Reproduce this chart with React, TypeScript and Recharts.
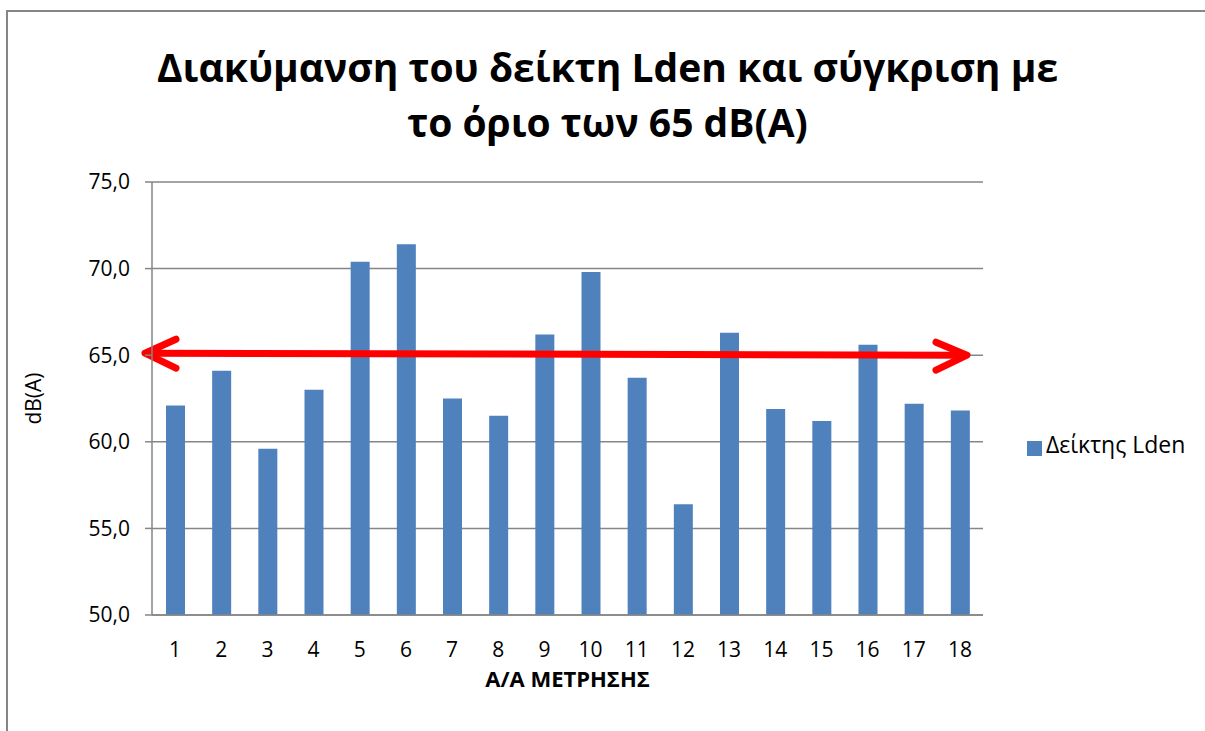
import { BarChart, Bar, XAxis, YAxis, CartesianGrid, Legend, ReferenceLine, Label } from "recharts";

// categories (measurement no.) and Lden values
const categories = ["1", "2", "3", "4", "5", "6", "7", "8", "9", "10", "11", "12", "13", "14", "15", "16", "17", "18"];
const ldenValues = [62.1, 64.1, 59.6, 63.0, 70.4, 71.4, 62.5, 61.5, 66.2, 69.8, 63.7, 56.4, 66.3, 61.9, 61.2, 65.6, 62.2, 61.8];
const yTicks = [50, 55, 60, 65, 70, 75];
const limitValue = 65;

const data = categories.map((c, i) => ({ name: c, lden: ldenValues[i] }));

const FONT = "'Open Sans', 'Noto Sans', sans-serif";
const GRID = "#868686";
const LEGEND_W = 180;

// double-headed red arrow drawn along the 65 dB(A) line
const ArrowShape = (props: any) => {
  const y = props.y1;
  const left = props.x1 - 7;
  const right = props.x2 - 16;
  return (
    <g stroke="#FF0000" strokeLinecap="round" strokeLinejoin="round" fill="none">
      <line x1={left + 4} y1={y - 2} x2={right - 4} y2={y} strokeWidth={7} />
      <polyline points={`${left + 31},${y - 16} ${left},${y - 2} ${left + 31},${y + 13}`} strokeWidth={7} />
      <polyline points={`${right - 31},${y - 13} ${right},${y} ${right - 31},${y + 15}`} strokeWidth={7} />
    </g>
  );
};

export default function App() {
  return (
    <div style={{ position: "fixed", left: 0, top: 0, width: 1205, height: 731, overflow: "hidden", background: "#fff", fontFamily: FONT }}>
      <div style={{ position: "absolute", left: 6, top: 10, width: 1300, height: 800, border: `2px solid ${GRID}` }} />
      <div style={{ position: "absolute", left: 0, top: 39, width: 1215, textAlign: "center", fontWeight: 700, fontSize: 39, lineHeight: "55px", color: "#000" }}>
        Διακύμανση του δείκτη Lden και σύγκριση με
        <br />
        το όριο των 65 dB(A)
      </div>
      <div style={{ position: "absolute", left: 0, top: 0 }}>
        <BarChart
          width={1205}
          height={731}
          data={data}
          margin={{ top: 182, right: 222 - LEGEND_W, bottom: 40, left: 72 }}
          barSize={19}
        >
          <CartesianGrid vertical={false} stroke={GRID} strokeWidth={1.5} />
          <XAxis
            dataKey="name"
            axisLine={{ stroke: GRID, strokeWidth: 1.5 }}
            tickLine={false}
            tick={{ fontSize: 21, fill: "#000", fontFamily: FONT }}
            tickMargin={21}
            height={76}
          >
            <Label value="Α/Α ΜΕΤΡΗΣΗΣ" position="insideBottom" offset={4} style={{ fontSize: 22, fontWeight: 700, fill: "#000", fontFamily: FONT }} />
          </XAxis>
          <YAxis
            domain={[50, 75]}
            ticks={yTicks}
            interval={0}
            width={80}
            axisLine={{ stroke: GRID, strokeWidth: 1.5 }}
            tickLine={{ stroke: GRID, strokeWidth: 1.5 }}
            tickSize={7}
            tickMargin={15}
            tickFormatter={(v: number) => v.toFixed(1).replace(".", ",")}
            tick={{ fontSize: 21, fill: "#000", fontFamily: FONT }}
          >
            <Label value="dB(A)" angle={-90} position="insideLeft" offset={-38} style={{ fontSize: 21, fill: "#000", fontFamily: FONT, textAnchor: "middle" }} />
          </YAxis>
          <Bar dataKey="lden" name="Δείκτης Lden" fill="#4F81BD" isAnimationActive={false} />
          <ReferenceLine y={limitValue} shape={ArrowShape} ifOverflow="visible" />
          <Legend
            layout="vertical"
            align="right"
            verticalAlign="middle"
            iconType="square"
            iconSize={15}
            wrapperStyle={{ position: "absolute", left: 1027, top: 428, width: LEGEND_W, right: "auto", bottom: "auto" }}
            formatter={(value: string) => <span style={{ color: "#000", fontSize: 23, fontFamily: FONT }}>{value}</span>}
          />
        </BarChart>
      </div>
    </div>
  );
}
